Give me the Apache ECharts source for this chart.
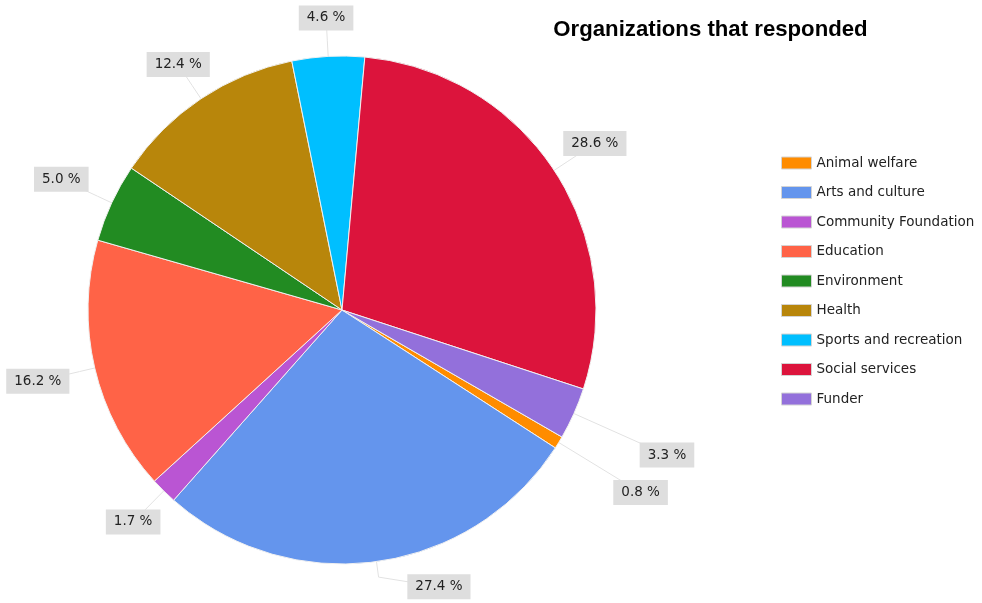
<!DOCTYPE html>
<html>
<head>
<meta charset="utf-8">
<script src="https://cdn.jsdelivr.net/npm/echarts@6/dist/echarts.min.js"></script>
<style>
html,body{margin:0;padding:0;background:#fff;}
#main{width:982px;height:603px;}
</style>
</head>
<body>
<div id="main"></div>
<script>
var categories = ['Animal welfare','Arts and culture','Community Foundation','Education','Environment','Health','Sports and recreation','Social services','Funder'];
var values = [0.8, 27.4, 1.7, 16.2, 5.0, 12.4, 4.6, 28.6, 3.3];
var colors = ['#FF8C00','#6495ED','#BA55D3','#FF6347','#228B22','#B8860B','#00BFFF','#DC143C','#9370DB'];
var titleText = 'Organizations that responded';

var W = 982, H = 603;
var CX = 342, CY = 310, R = 254, START = -30, GAP = 26, CROWD_PUSH = 46;
var LBL_W = 58, LBL_H = 25;
var total = values.reduce(function(a, b){ return a + b; }, 0);
var midAngles = [];
(function(){
  var cum = 0;
  for (var i = 0; i < values.length; i++) {
    // clockwise screen angle (radians, y down) from 3 o'clock
    midAngles.push((-START + 360 * (cum + values[i] / 2) / total) * Math.PI / 180);
    cum += values[i];
  }
})();

function placeLabel(a, hw, hh, extra) {
  var ux = Math.cos(a), uy = Math.sin(a);
  var d = Math.min(Math.abs(ux) > 1e-6 ? hw / Math.abs(ux) : 1e9, Math.abs(uy) > 1e-6 ? hh / Math.abs(uy) : 1e9);
  var dist = R + GAP + (extra || 0) + d;
  return {ux: ux, uy: uy, x: CX + ux * dist, y: CY + uy * dist};
}

// labels crowded against a neighbour are pushed further out
var crowded = midAngles.map(function(a, i){
  var n = midAngles.length;
  var p = placeLabel(a, LBL_W / 2, LBL_H / 2);
  return [ (i + n - 1) % n, (i + 1) % n ].some(function(j){
    var q = placeLabel(midAngles[j], LBL_W / 2, LBL_H / 2);
    return Math.abs(p.x - q.x) < LBL_W + 10 && Math.abs(p.y - q.y) < LBL_H + 10;
  });
});

var chart = echarts.init(document.getElementById('main'), null, {renderer:'canvas'});
chart.setOption({
  animation: false,
  color: colors,
  title: {
    text: titleText,
    left: 705.5, top: 14, textAlign: 'center',
    textStyle: {fontFamily: 'Liberation Sans, Arial, sans-serif', fontSize: 22.2, fontWeight: 'bold', color: '#000'}
  },
  legend: {
    orient: 'vertical',
    left: 781, top: 156,
    padding: 0,
    itemWidth: 30, itemHeight: 12, itemGap: 15.5, itemTextGap: 7,
    icon: 'rect',
    data: categories,
    itemStyle: {borderColor: '#d4d4d4', borderWidth: 1},
    textStyle: {fontFamily: 'DejaVu Sans, sans-serif', fontSize: 13.5, color: '#222'}
  },
  series: [{
    type: 'pie',
    center: [CX, CY],
    radius: R,
    startAngle: START,
    clockwise: true,
    avoidLabelOverlap: false,
    data: categories.map(function(c, i){ return {name: c, value: values[i]}; }),
    itemStyle: {borderColor: '#f0f0f0', borderWidth: 1},
    label: {
      show: true,
      position: 'outside',
      overflow: 'none',
      formatter: function(p){ return p.value.toFixed(1) + ' %'; },
      fontFamily: 'DejaVu Sans, sans-serif',
      fontSize: 13.5,
      color: '#222',
      backgroundColor: '#dedede',
      padding: [6, 8, 5, 8]
    },
    labelLine: {
      show: true,
      length: 10,
      length2: 10,
      lineStyle: {color: '#e2e2e2', width: 1}
    },
    labelLayout: function(params){
      var i = params.dataIndex;
      var mid = midAngles[i];
      var extra = crowded[i] ? CROWD_PUSH : 0;
      var hw = params.labelRect.width / 2, hh = params.labelRect.height / 2;
      var a = mid, p = placeLabel(a, hw, hh, extra), step = Math.PI / 360, n = 0;
      // keep the label inside the canvas by sliding it round the pie
      while ((p.y + hh > H - 3 || p.y - hh < 3 || p.x - hw < 3 || p.x + hw > W - 3) && n < 120) {
        a += (p.y + hh > H - 3) ? (p.ux > 0 ? -step : step)
           : (p.y - hh < 3) ? (p.ux > 0 ? step : -step)
           : (p.x - hw < 3) ? (p.uy > 0 ? -step : step)
           : (p.uy > 0 ? step : -step);
        p = placeLabel(a, hw, hh, extra);
        n++;
      }
      var ux = Math.cos(mid), uy = Math.sin(mid);
      return {
        x: p.x, y: p.y, align: 'center', verticalAlign: 'middle',
        labelLinePoints: [[CX + ux * R, CY + uy * R], [CX + ux * (R + GAP * 0.6), CY + uy * (R + GAP * 0.6)], [p.x, p.y]]
      };
    }
  }]
});
</script>
</body>
</html>
